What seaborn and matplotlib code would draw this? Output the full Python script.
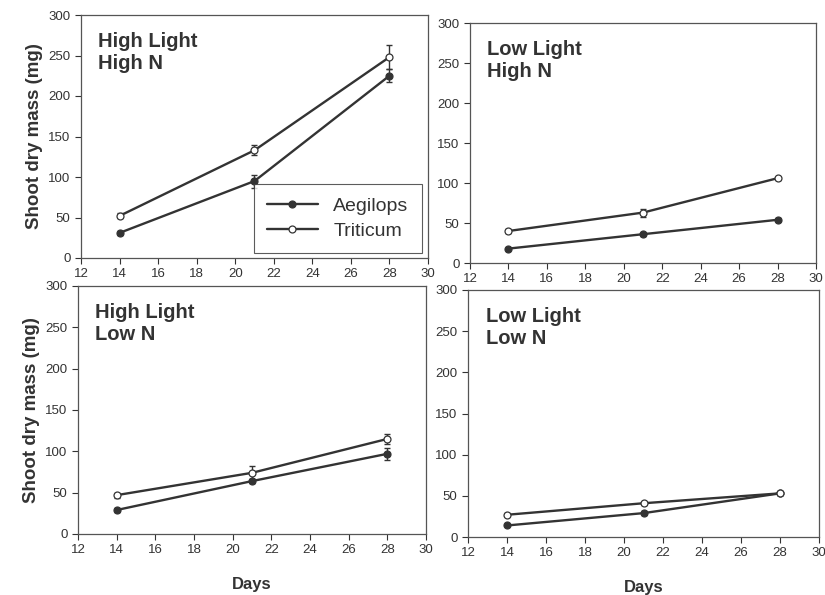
import numpy as np
import pandas as pd
import matplotlib
matplotlib.use('Agg')
import matplotlib.pyplot as plt
import seaborn as sns

sns.set_style('ticks')
plt.rcParams['font.family'] = ['Liberation Sans', 'DejaVu Sans']

days = [14, 21, 28]
panels = ['High Light\nHigh N', 'Low Light\nHigh N', 'High Light\nLow N', 'Low Light\nLow N']

# shoot dry mass (mg) per panel, and standard errors
aegilops = [[31, 95, 225], [18, 36, 54], [29, 64, 97], [14, 29, 53]]
aegilops_err = [[2, 8, 8], [1, 2, 2], [2, 2, 7], [1, 2, 2]]
triticum = [[52, 133, 248], [40, 63, 106], [47, 74, 115], [27, 41, 53]]
triticum_err = [[3, 6, 15], [2, 5, 2], [3, 8, 6], [2, 2, 2]]

rows = []
for i, p in enumerate(panels):
    for j, d in enumerate(days):
        rows.append({'panel': p, 'Days': d, 'species': 'Aegilops', 'mass': aegilops[i][j], 'err': aegilops_err[i][j]})
        rows.append({'panel': p, 'Days': d, 'species': 'Triticum', 'mass': triticum[i][j], 'err': triticum_err[i][j]})
df = pd.DataFrame(rows)

fig = plt.figure(figsize=(8.25, 5.95), dpi=100)
W, H = 825, 595
# axes boxes in pixels: left, top, right, bottom
boxes = [(81, 15, 428, 258), (470, 23, 816, 263), (78, 286, 426, 534), (468, 290, 819, 537)]

ink = '#333333'
for i, p in enumerate(panels):
    l, t, r, b = boxes[i]
    ax = fig.add_axes([l / W, 1 - b / H, (r - l) / W, (b - t) / H])
    sub = df[df['panel'] == p]
    for sp, mfc in [('Aegilops', ink), ('Triticum', 'white')]:
        s = sub[sub['species'] == sp]
        ax.errorbar(s['Days'], s['mass'], yerr=s['err'], fmt='none', ecolor=ink,
                    elinewidth=1, capsize=2.5, zorder=2)
        sns.lineplot(data=s, x='Days', y='mass', ax=ax, color=ink, lw=1.7,
                     marker='o', markersize=5, markerfacecolor=mfc,
                     markeredgecolor=ink, markeredgewidth=0.9, label=sp, zorder=3)
    ax.set_xlim(12, 30)
    ax.set_ylim(0, 300)
    ax.set_xticks(np.arange(12, 31, 2))
    ax.set_yticks(np.arange(0, 301, 50))
    ax.tick_params(labelsize=9.5, colors=ink, length=4, width=0.8, direction='out')
    for s_ in ax.spines.values():
        s_.set_color('#555555')
        s_.set_linewidth(0.9)
    ax.text(0.05, 0.93, p, transform=ax.transAxes, fontsize=14.5, color=ink,
            va='top', ha='left', fontweight='bold', linespacing=1.2)
    if i % 2 == 0:
        ax.set_ylabel('Shoot dry mass (mg)', fontsize=13.5, color=ink, labelpad=4,
                      fontweight='bold')
    else:
        ax.set_ylabel('')
    if i >= 2:
        ax.set_xlabel('Days', fontsize=12, color=ink, fontweight='bold', labelpad=15)
    else:
        ax.set_xlabel('')
    if i == 0:
        leg = ax.legend(loc='lower right', fontsize=14, frameon=True, fancybox=False,
                        edgecolor='#333333', handlelength=2.6, borderpad=0.7,
                        bbox_to_anchor=(0.983, 0.02), borderaxespad=0, labelspacing=0.35)
        leg.get_frame().set_linewidth(0.8)
        for txt in leg.get_texts():
            txt.set_color(ink)
    else:
        ax.get_legend().remove()

fig.savefig('out.png', dpi=100)
